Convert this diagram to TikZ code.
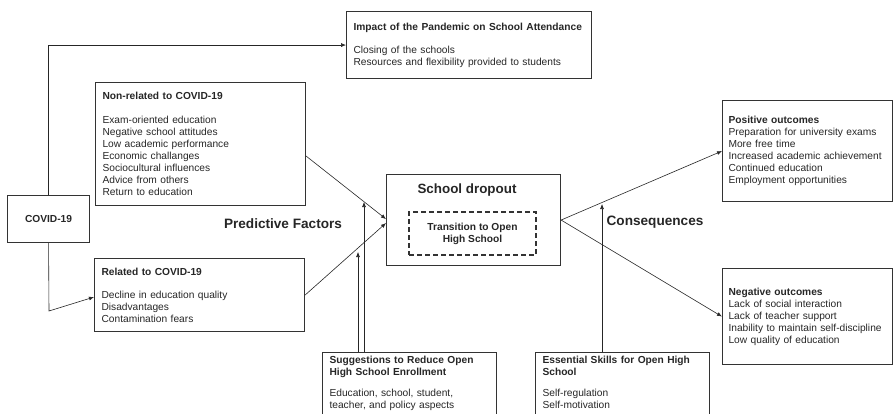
\documentclass[tikz,border=0pt]{standalone}
\usepackage{fontspec}
\setmainfont{Liberation Sans}
\usetikzlibrary{arrows.meta}

\begin{document}
\begin{tikzpicture}[
	x=1pt,
	y=-1pt,
	font=\fontsize{10.2}{12}\selectfont,
	box/.style={draw=black!80, line width=1.1pt, anchor=north west, align=left,
		inner xsep=7pt, inner ysep=0pt, text=black!85},
	link/.style={-{Latex[length=5pt,width=4pt]}, line width=0.6pt, black!85},
	heading/.style={font=\fontsize{13.6}{15}\selectfont\bfseries, text=black!85}
	]
	\useasboundingbox (0,0) rectangle (893,413);

	% --- left: causes ---
	\node[box, text width=68pt, minimum height=47pt, align=center] (covid) at (7,195)
		{\textbf{COVID-19}};
	\node[box, text width=231pt, minimum height=67pt] (impact) at (346,11)
		{\textbf{Impact of the Pandemic on School Attendance}\\[11pt]
		 Closing of the schools\\
		 Resources and flexibility provided to students};
	\node[box, text width=196pt, minimum height=123pt] (nonrel) at (95,82)
		{\textbf{Non-related to COVID-19}\\[12pt]
		 Exam-oriented education\\
		 Negative school attitudes\\
		 Low academic performance\\
		 Economic challanges\\
		 Sociocultural influences\\
		 Advice from others\\
		 Return to education};
	\node[box, text width=196pt, minimum height=73pt] (rel) at (94,258)
		{\textbf{Related to COVID-19}\\[11pt]
		 Decline in education quality\\
		 Disadvantages\\
		 Contamination fears};

	% --- centre ---
	\node[box, minimum width=174pt, minimum height=91pt, inner sep=0pt] (drop) at (386,174) {};
	\node[font=\fontsize{13.4}{15}\selectfont\bfseries, text=black!85] (droptitle) at (467,190)
		{School dropout};
	\node[draw=black!80, dash pattern=on 5pt off 3pt, line width=1.1pt, minimum width=127pt,
		minimum height=43pt, align=center, text=black!85] (trans) at (472.5,233.5)
		{\textbf{Transition to Open}\\\textbf{High School}};
	\node[heading] (pred) at (283,224) {Predictive Factors};
	\node[heading] (cons) at (655,222) {Consequences};

	% --- right: outcomes ---
	\node[box, inner xsep=6pt, text width=158pt, minimum height=101pt] (pos) at (722,100)
		{\textbf{Positive outcomes}\\
		 Preparation for university exams\\
		 More free time\\
		 Increased academic achievement\\
		 Continued education\\
		 Employment opportunities};
	\node[box, inner xsep=6pt, text width=158pt, minimum height=96pt] (neg) at (722,268)
		{\textbf{Negative outcomes}\\
		 Lack of social interaction\\
		 Lack of teacher support\\
		 Inability to maintain self-discipline\\
		 Low quality of education};

	% --- bottom ---
	\node[box, inner ysep=4pt, text width=160pt] (sugg) at (322,352)
		{\textbf{Suggestions to Reduce Open}\\
		 \textbf{High School Enrollment}\\[9pt]
		 Education, school, student,\\
		 teacher, and policy aspects\\
		 ~};
	\node[box, inner ysep=4pt, text width=160pt] (skills) at (535,352)
		{\textbf{Essential Skills for Open High}\\
		 \textbf{School}\\[9pt]
		 Self-regulation\\
		 Self-motivation\\
		 ~};

	% --- connectors ---
	\coordinate (bend) at (49,311);
	\coordinate (m1) at (364,202);
	\coordinate (m2) at (358,252);
	\coordinate (m3) at (602,204);

	\draw[link] (covid.north) |- (impact.west);
	\draw[link] (covid.south) -- (bend) -- ([yshift=-2pt]rel.west);
	\draw[link] ([yshift=-12pt]nonrel.east) -- ([yshift=1pt]drop.west);
	\draw[link] (rel.east) -- ([yshift=-3pt]drop.west);
	\draw[link] (sugg.north west -| m1) -- (m1);
	\draw[link] (sugg.north west -| m2) -- (m2);
	\draw[link] (skills.north west -| m3) -- (m3);
	\draw[link] (drop.east) -- (pos.west);
	\draw[link] (drop.east) -- (neg.west);
\end{tikzpicture}
\end{document}
